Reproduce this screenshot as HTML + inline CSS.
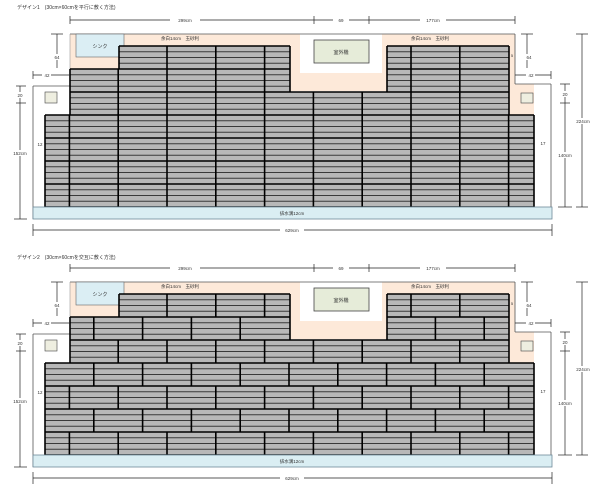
<!DOCTYPE html>
<html><head><meta charset="utf-8">
<style>
html,body{margin:0;padding:0;background:#fff;}
svg{display:block;}
text{font-family:"Liberation Sans","Noto Sans CJK JP",sans-serif;fill:#333;}
</style></head>
<body>
<svg id="s" width="600" height="491" viewBox="0 0 600 491" xmlns="http://www.w3.org/2000/svg"></svg>
<script>
var out='';
function L(x1,y1,x2,y2,w,c){out+='<line x1="'+x1+'" y1="'+y1+'" x2="'+x2+'" y2="'+y2+'" stroke="'+(c||'#000')+'" stroke-width="'+(w||1)+'"/>';}
function R(x,y,w,h,f,s,sw){out+='<rect x="'+x+'" y="'+y+'" width="'+w+'" height="'+h+'" fill="'+f+'"'+(s?' stroke="'+s+'" stroke-width="'+(sw||0.8)+'"':'')+'/>';}
function T(x,y,t,sz,a){out+='<text x="'+x+'" y="'+y+'" font-size="'+(sz||5)+'" text-anchor="'+(a||'middle')+'">'+t+'</text>';}
function design(o,stag,title){
  T(17,9+o+(o?2:0),title,5,'start');
  // peach background
  R(70,34+o,445,57,'#fde9d9');
  R(509,84+o,25,31,'#fde9d9');
  R(300,34+o,82,39,'#ffffff');
  // frame lines
  L(33,86+o,70,86+o,0.8,'#555');L(33,86+o,33,219+o,0.8,'#555');
  L(70,34+o,515,34+o,0.8,'#555');L(70,34+o,70,86+o,0.6,'#999');
  L(515,34+o,515,84+o,0.8,'#555');L(515,84+o,551,84+o,0.8,'#555');L(551,84+o,551,219+o,0.8,'#555');
  // sink
  R(76,34+o,48,23,'#dbeef4','#666',0.6);
  T(100,48+o,'シンク',5);
  // outdoor unit
  R(314,40+o,55,23,'#e6ecd9','#444',0.8);
  T(341,54+o,'室外機',5);
  T(180,40+o,'余白14cm　玉砂利',4.5);
  T(430,40+o,'余白14cm　玉砂利',4.5);
  T(512,57+o,'5',4);
  // small boxes
  R(45,92+o,12,11,'#eeeee0','#444',0.6);
  R(521,93+o,12,10,'#eeeee0','#444',0.6);
  // tiles
  var H=23, top=46+o;
  for(var i=0;i<7;i++){
    var y0=46+H*i, yy=y0+o;
    var left = y0>=115?45:(y0>=69?70:119);
    var right= y0>=115?534:509;
    var segs = y0<92?[[left,290],[387,right]]:[[left,right]];
    var base = (stag && i%2==1)?94.4:70;
    segs.forEach(function(s){
      R(s[0],yy,s[1]-s[0],H,'#b8b8b8');
      for(var k=1;k<4;k++) L(s[0],yy+H*k/4,s[1],yy+H*k/4,0.9,'#3a3a3a');
      L(s[0],yy,s[1],yy,1.6);
      L(s[0],yy,s[0],yy+H,1.6);L(s[1],yy,s[1],yy+H,1.6);
      for(var p=base-49*3;p<s[1]-2;p+=48.8){ if(p>s[0]+2) L(p,yy,p,yy+H,1.6); }
    });
  }
  L(45,207+o,534,207+o,1.6);
  // drainage
  R(33,207+o,519,12,'#daeef3','#6f8a99',0.8);
  T(292,215+o,'排水溝12cm',4.5);
  // dimensions
  var dc='#222';
  L(70,20+o,515,20+o,0.7,dc);
  [70,314,369,515].forEach(function(x){L(x,16+o,x,24+o,0.7,dc);});
  R(170,17+o,30,6,'#fff');T(185,22+o,'299cm',4.5);
  R(333,17+o,16,6,'#fff');T(341,22+o,'69',4.5);
  R(420,17+o,26,6,'#fff');T(433,22+o,'177cm',4.5);
  // left
  L(57,34+o,57,68+o,0.7,dc);L(51,34+o,63,34+o,0.7,dc);
  R(54,54+o,7,6,'#fff');T(57,59+o,'64',4.5);
  L(33,75+o,70,75+o,0.7,dc);L(33,71+o,33,79+o,0.7,dc);
  R(42,72+o,9,6,'#fff');T(47,77+o,'42',4.5);
  L(20,86+o,20,219+o,0.7,dc);L(16,86+o,26,86+o,0.7,dc);L(16,103+o,26,103+o,0.7,dc);L(14,219+o,27,219+o,0.7,dc);
  R(16,92+o,8,6,'#fff');T(20,97+o,'20',4.5);
  R(10,150+o,20,6,'#fff');T(20,155+o,'152cm',4.5);
  T(40,146+o,'12',4.5);
  // right
  L(527,34+o,527,68+o,0.7,dc);L(521,34+o,533,34+o,0.7,dc);
  R(525,54+o,8,6,'#fff');T(529,59+o,'64',4.5);
  L(515,75+o,551,75+o,0.7,dc);L(551,71+o,551,79+o,0.7,dc);
  R(526,72+o,9,6,'#fff');T(531,77+o,'42',4.5);
  L(565,84+o,565,207+o,0.7,dc);L(560,84+o,570,84+o,0.7,dc);L(560,103+o,570,103+o,0.7,dc);L(558,207+o,572,207+o,0.7,dc);
  R(561,91+o,8,6,'#fff');T(565,96+o,'20',4.5);
  R(556,152+o,19,6,'#fff');T(565,157+o,'140cm',4.5);
  L(582,34+o,582,207+o,0.7,dc);L(576,34+o,588,34+o,0.7,dc);L(576,207+o,588,207+o,0.7,dc);
  R(572,118+o,22,6,'#fff');T(583,123+o,'224cm',4.5);
  T(543,145+o,'17',4.5);
  // bottom
  L(33,230+o,552,230+o,0.7,dc);L(33,224+o,33,236+o,0.7,dc);L(552,224+o,552,236+o,0.7,dc);
  R(280,227+o,24,6,'#fff');T(292,232+o,'629cm',4.5);
}
design(0,false,'デザイン1　(30cm×60cmを平行に敷く方法)');
design(248,true,'デザイン2　(30cm×60cmを交互に敷く方法)');
document.getElementById('s').innerHTML=out;
</script>
</body></html>
